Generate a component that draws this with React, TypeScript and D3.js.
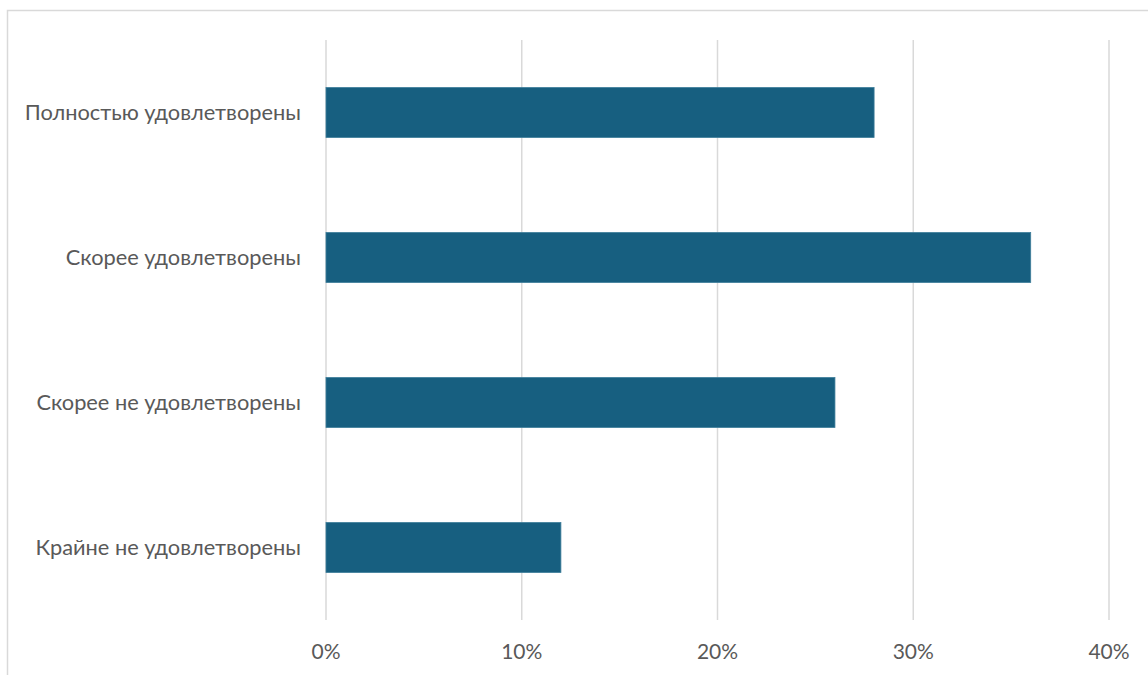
import React from "react";
import * as d3 from "d3";

const categories = [
  "Полностью удовлетворены",
  "Скорее удовлетворены",
  "Скорее не удовлетворены",
  "Крайне не удовлетворены",
];
const values = [0.28, 0.36, 0.26, 0.12];
const ticks = [0, 0.1, 0.2, 0.3, 0.4];

const W = 1148;
const H = 675;
const plot = { left: 326, right: 1109, top: 40, bottom: 620 };

export default function App() {
  const x = d3.scaleLinear().domain([0, 0.4]).range([plot.left, plot.right]);
  const y = d3
    .scaleBand<string>()
    .domain(categories)
    .range([plot.top, plot.bottom])
    .paddingInner(0.655)
    .paddingOuter(0.3275);
  const fmt = d3.format(".0%");
  const font = "Lato, sans-serif";
  return (
    <svg
      width={W}
      height={H}
      style={{ position: "absolute", left: 0, top: 0, background: "#fff" }}
    >
      <rect x={7.5} y={10.5} width={W + 10} height={H + 10} fill="#fff" stroke="#d9d9d9" strokeWidth={1.5} />
      {ticks.map((t) => (
        <line
          key={t}
          x1={x(t)}
          x2={x(t)}
          y1={plot.top}
          y2={plot.bottom}
          stroke="#d9d9d9"
          strokeWidth={1.5}
        />
      ))}
      {categories.map((c, i) => (
        <rect
          key={c}
          x={x(0)}
          y={y(c)}
          width={x(values[i]) - x(0)}
          height={y.bandwidth()}
          fill="#175F80"
          stroke="#3f7e9b"
          strokeWidth={0.8}
        />
      ))}
      {categories.map((c) => (
        <text
          key={c}
          x={plot.left - 25}
          y={(y(c) as number) + y.bandwidth() / 2}
          dy="0.35em"
          textAnchor="end"
          fontFamily={font}
          fontSize={21.8}
          fill="#595959"
        >
          {c}
        </text>
      ))}
      {ticks.map((t) => (
        <text
          key={t}
          x={x(t)}
          y={652}
          dy="0.35em"
          textAnchor="middle"
          fontFamily={font}
          fontSize={21}
          fill="#595959"
        >
          {fmt(t)}
        </text>
      ))}
    </svg>
  );
}
